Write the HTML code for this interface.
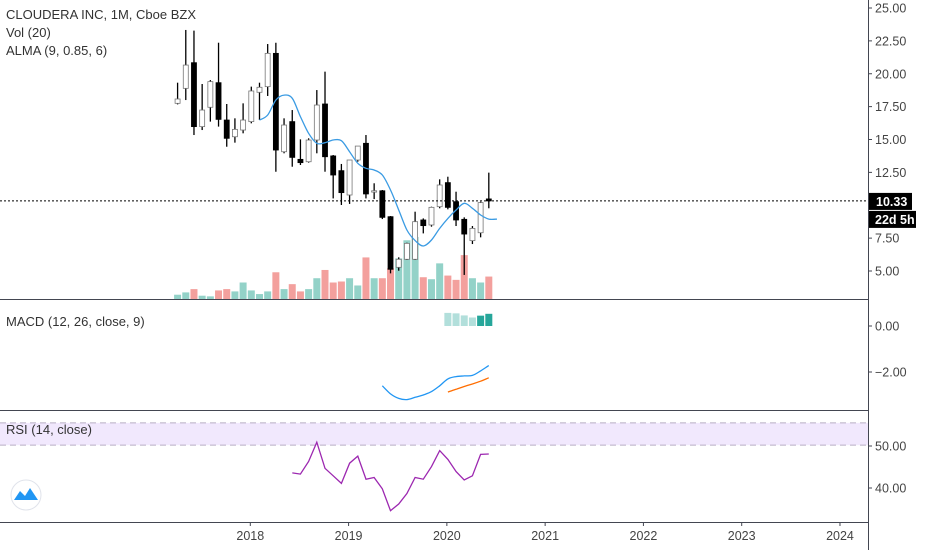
<!DOCTYPE html>
<html><head><meta charset="utf-8"><style>
body{margin:0;background:#fff;font-family:"Liberation Sans",sans-serif;}
svg text{font-family:"Liberation Sans",sans-serif;}
</style></head><body>
<svg id="c" width="932" height="550" xmlns="http://www.w3.org/2000/svg">
<rect width="932" height="550" fill="#fff"/>
<g id="g"></g>
<text x="6" y="19" font-size="13" fill="#333">CLOUDERA INC, 1M, Cboe BZX</text>
<text x="6" y="37" font-size="13" fill="#333">Vol (20)</text>
<text x="6" y="55" font-size="13" fill="#333">ALMA (9, 0.85, 6)</text>
<text x="6" y="326" font-size="13" fill="#333">MACD (12, 26, close, 9)</text>
<text x="6" y="434" font-size="13" fill="#333">RSI (14, close)</text>
<g><circle cx="26" cy="495" r="15" fill="#fff" stroke="#e0e3eb"/><path d="M14 500 L20 491 L25 496 L30 488 L38 500 Z" fill="#2196f3"/></g>
</svg>
<script>
const opens=[17.75,18.89,20.84,15.98,17.45,19.32,16.48,15.21,15.72,16.36,18.59,19.02,21.55,14.07,16.36,13.49,13.31,14.96,17.7,13.75,12.63,10.78,13.44,14.71,11.0,11.1,9.13,5.28,5.89,5.89,8.88,8.5,9.89,11.72,10.27,8.93,7.31,7.91,10.48];
const closes=[18.08,20.66,15.98,17.24,19.4,16.53,15.09,15.77,16.48,18.69,18.97,21.55,14.2,16.1,13.64,13.24,14.96,17.62,13.69,12.3,10.96,13.44,14.5,10.86,11.1,9.08,5.13,5.89,7.1,8.75,8.45,9.84,11.54,9.84,8.88,7.81,8.24,10.2,10.33];
const highs=[19.32,23.33,23.28,19.22,19.52,22.36,17.7,16.61,17.75,19.02,19.32,22.26,22.36,16.61,17.24,15.01,15.09,18.76,20.16,13.82,13.14,13.44,14.5,15.34,11.67,11.16,9.18,6.04,7.15,9.51,9.0,9.89,11.97,12.17,11.03,9.08,8.42,10.27,12.48];
const lows=[17.67,18.0,15.34,15.72,16.36,15.98,14.45,14.76,15.47,16.23,16.48,18.31,12.55,13.95,12.93,13.06,13.24,13.95,12.55,10.52,10.02,10.1,13.31,10.52,10.47,8.95,4.82,5.02,5.84,5.84,7.86,8.37,9.77,9.69,8.42,4.7,7.05,7.56,9.77];
const volumes=[13,20,30,10,8,26,30,23,50,26,15,23,81,30,45,23,30,63,88,50,53,63,41,126,63,63,93,123,178,188,66,60,108,71,58,133,63,50,68];
const alma=[16.48,16.86,18.0,18.38,18.13,16.74,15.47,14.71,14.76,14.96,14.91,14.07,13.19,12.81,12.68,12.3,11.16,9.64,8.12,7.31,6.9,7.36,8.24,9.0,9.64,10.15,9.77,9.26,8.95,8.95];
const almaStart=10;
const macd=[-2.6,-2.95,-3.15,-3.2,-3.1,-3.0,-2.85,-2.6,-2.3,-2.2,-2.17,-2.15,-1.95,-1.72];
const macdStart=25;
const signal=[-2.87,-2.75,-2.63,-2.52,-2.4,-2.25];
const signalStart=33;
const hist=[0.57,0.55,0.46,0.37,0.45,0.53];
const histStart=33;
const rsi=[43.6,43.3,46.3,50.9,44.7,42.9,41.1,45.9,47.6,42.1,42.5,39.8,34.6,36.2,38.7,42.5,42.1,45.1,48.9,46.8,43.9,41.9,42.9,48.0,48.1];
const rsiStart=14;
const priceTicks=[25,22.5,20,17.5,15,12.5,7.5,5];
const macdTicks=[0,-2];
const rsiTicks=[50,40];
const years=["2018","2019","2020","2021","2022","2023","2024"];
const lastPrice=10.33;

const NS="http://www.w3.org/2000/svg";
const g=document.getElementById('g');
function mk(t,a,p){const e=document.createElementNS(NS,t);for(const k in a)e.setAttribute(k,a[k]);(p||g).appendChild(e);return e;}
const xI=i=>251.3+(i-9)*8.19;
const yP=p=>8+(25-p)*13.15;
const yM=v=>326-v*23;
const yR=v=>446-(v-50)*4.2;
const yV=v=>299-v*0.33;
const xYear=k=>251.3+k*12*8.19-1;

let e;
e=mk('line',{x1:0,y1:299.5,x2:868,y2:299.5,stroke:'#434651'});
e=mk('line',{x1:0,y1:410.5,x2:868,y2:410.5,stroke:'#434651'});
e=mk('line',{x1:0,y1:522.5,x2:868,y2:522.5,stroke:'#434651'});
e=mk('line',{x1:868.5,y1:0,x2:868.5,y2:550,stroke:'#434651'});

e=mk('rect',{x:0,y:yR(55.5),width:868,height:yR(50.2)-yR(55.5),fill:'#ede2fc',opacity:0.8});
[55.5,50.2].forEach(v=>{e=mk('line',{x1:0,y1:yR(v),x2:868,y2:yR(v),stroke:'#b8aec4','stroke-dasharray':'6 4'});});

volumes.forEach((v,i)=>{const up=closes[i]>=opens[i];
e=mk('rect',{x:xI(i)-3.5,y:yV(v),width:7,height:299-yV(v),fill:up?'#93d2c8':'#f3a09d'});

});

opens.forEach((o,i)=>{const c=closes[i],x=xI(i);const up=c>=o;
e=mk('line',{x1:x,y1:yP(highs[i]),x2:x,y2:yP(lows[i]),stroke:'#000','stroke-width':1.3});


const t=yP(Math.max(o,c)),b=yP(Math.min(o,c));
e=mk('rect',{x:x-2.5,y:t,width:5,height:Math.max(1,b-t),fill:up?'#fff':'#000',stroke:up?'#777':'#000','stroke-width':0.8});

});

function smooth(arr,start,yf,col,name,w){
const P=arr.map((v,k)=>[xI(start+k),yf(v)]);
let d='M'+P[0][0].toFixed(1)+' '+P[0][1].toFixed(1);
for(let i=0;i<P.length-1;i++){const p0=P[Math.max(0,i-1)],p1=P[i],p2=P[i+1],p3=P[Math.min(P.length-1,i+2)];
const c1=[p1[0]+(p2[0]-p0[0])/6,p1[1]+(p2[1]-p0[1])/6],c2=[p2[0]-(p3[0]-p1[0])/6,p2[1]-(p3[1]-p1[1])/6];
d+=' C'+c1.map(n=>n.toFixed(1)).join(' ')+' '+c2.map(n=>n.toFixed(1)).join(' ')+' '+p2.map(n=>n.toFixed(1)).join(' ');}
const p=mk('path',{d:d,fill:'none',stroke:col,'stroke-width':w||1.3});

}
function poly(arr,start,yf,col,name,w){const pts=arr.map((v,k)=>xI(start+k).toFixed(1)+','+yf(v).toFixed(1)).join(' ');
const p=mk('polyline',{points:pts,fill:'none',stroke:col,'stroke-width':w||1.3});

}
smooth(alma,almaStart,yP,'#3a9be3','alma-line');

e=mk('line',{x1:0,y1:yP(lastPrice),x2:868,y2:yP(lastPrice),stroke:'#000','stroke-dasharray':'2 2'});

hist.forEach((v,i)=>{const x=xI(histStart+i);
e=mk('rect',{x:x-3.5,y:yM(v),width:7,height:yM(0)-yM(v),fill:i>=4?'#26a69a':'#b2dfdb'});

});
smooth(macd,macdStart,yM,'#2196f3','macd-line');
smooth(signal,signalStart,yM,'#ff6d00','signal-line');
poly(rsi,rsiStart,yR,'#9c27b0','rsi-line');

function lab(txt,y,name){const t=mk('text',{x:875,y:y+4.5,'font-size':12.5,fill:'#444'});t.textContent=txt;


const k=mk('line',{x1:868,y1:y,x2:872,y2:y,stroke:'#434651'});

}
priceTicks.forEach(p=>lab(p.toFixed(2),yP(p),'price-tick-label'));
macdTicks.forEach(p=>lab((p<0?'\u2212':'')+Math.abs(p).toFixed(2),yM(p),'macd-tick-label'));
rsiTicks.forEach(p=>lab(p.toFixed(2),yR(p),'rsi-tick-label'));
years.forEach((y,k)=>{const x=xYear(k);
const t=mk('text',{x:x,y:540,'font-size':12.5,fill:'#444','text-anchor':'middle'});t.textContent=y;


const l=mk('line',{x1:x,y1:522,x2:x,y2:526,stroke:'#434651'});

});

const ly=yP(lastPrice);
e=mk('rect',{x:869,y:ly-8,width:43,height:17,fill:'#000'});
e=mk('text',{x:876,y:ly+5,'font-size':12.5,fill:'#fff','font-weight':'bold'});e.textContent=lastPrice.toFixed(2);
e=mk('rect',{x:869,y:ly+10,width:47,height:17,fill:'#000'});
e=mk('text',{x:875,y:ly+23,'font-size':12.5,fill:'#fff','font-weight':'bold'});e.textContent='22d 5h';
</script>
</body></html>
